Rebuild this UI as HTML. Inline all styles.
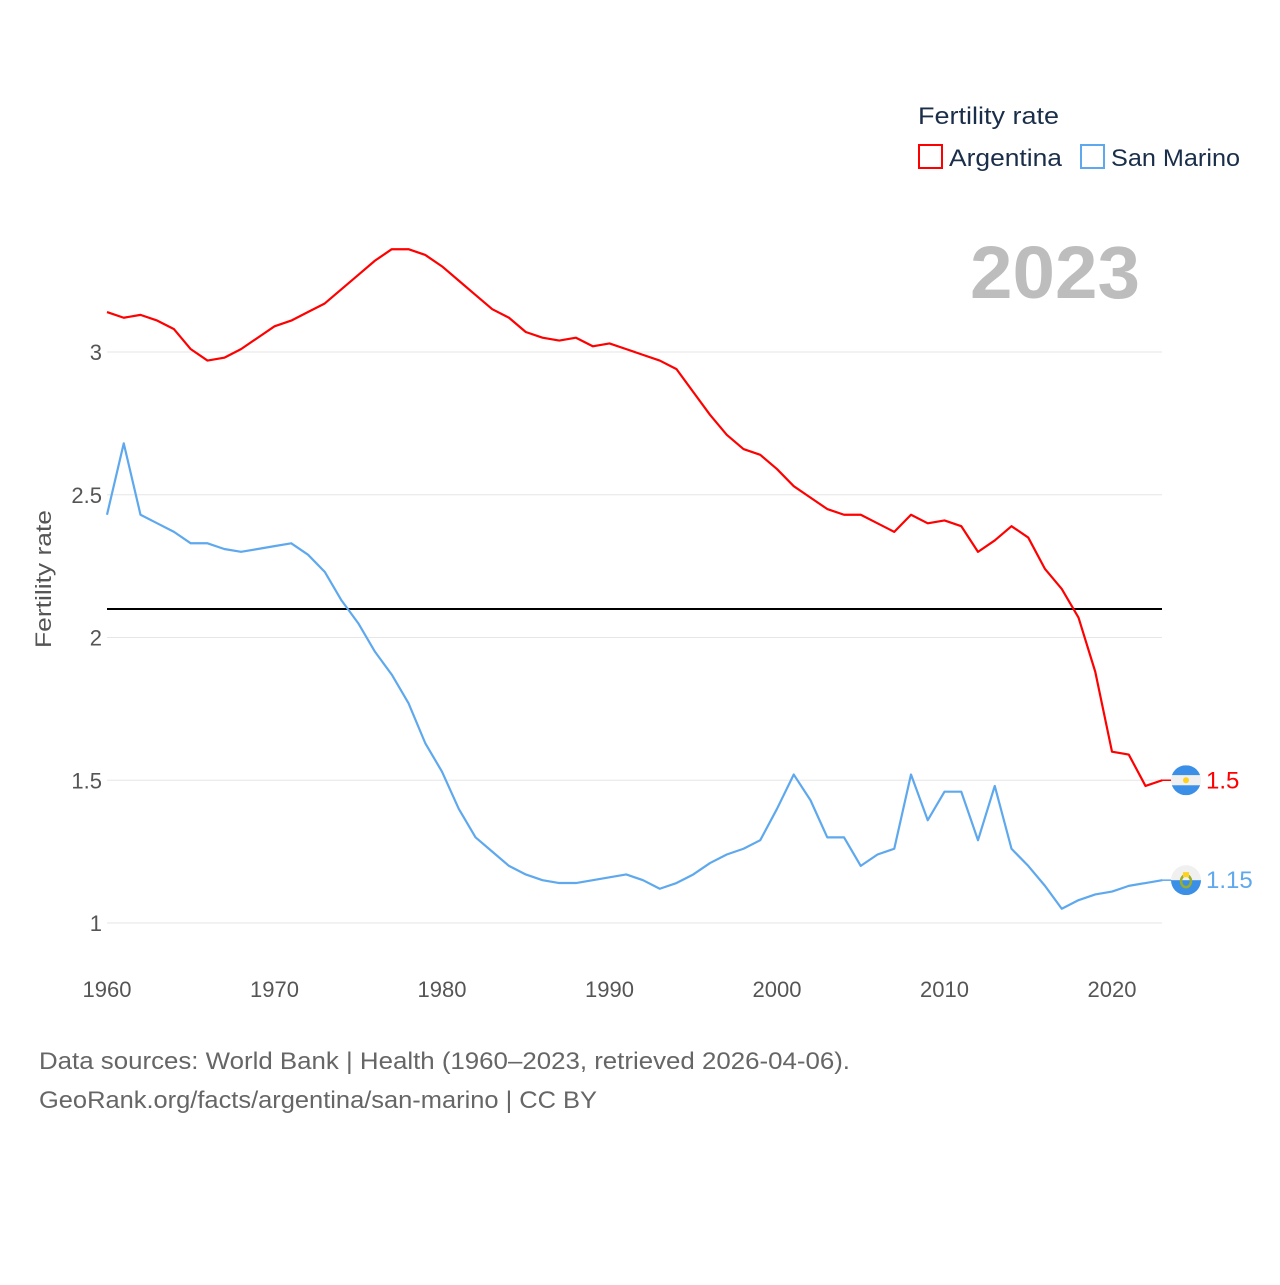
<!DOCTYPE html>
<html><head><meta charset="utf-8">
<style>
html,body{margin:0;padding:0;background:#fff;}
body{width:1280px;height:1280px;overflow:hidden;font-family:"Liberation Sans",sans-serif;}
</style></head>
<body>
<svg id="chart" width="1280" height="1280" xmlns="http://www.w3.org/2000/svg" font-family="Liberation Sans, sans-serif">
<g id="grid"></g>
<g id="yticks"></g>
<g id="xticks"></g>
<text transform="translate(51,579) rotate(-90)" text-anchor="middle" font-size="22" fill="#555" textLength="138" lengthAdjust="spacingAndGlyphs">Fertility rate</text>
<text x="970" y="298" font-size="74" font-weight="bold" fill="#bdbdbd" textLength="170" lengthAdjust="spacingAndGlyphs">2023</text>
<g>
<text x="918" y="124" font-size="24" fill="#1a2e4a" textLength="141" lengthAdjust="spacingAndGlyphs">Fertility rate</text>
<rect x="919" y="145" width="23" height="23" fill="none" stroke="#ff0000" stroke-width="2"/>
<text x="949" y="166" font-size="24" fill="#1a2e4a" textLength="113" lengthAdjust="spacingAndGlyphs">Argentina</text>
<rect x="1081" y="145" width="23" height="23" fill="none" stroke="#5ea8ee" stroke-width="2"/>
<text x="1111" y="166" font-size="24" fill="#1a2e4a" textLength="129" lengthAdjust="spacingAndGlyphs">San Marino</text>
</g>
<line id="refline" stroke="#000" stroke-width="2"/>
<g id="series"></g>
<g id="ends"></g>
<text x="39" y="1069" font-size="24" fill="#666" textLength="811" lengthAdjust="spacingAndGlyphs">Data sources: World Bank | Health (1960–2023, retrieved 2026-04-06).</text>
<text x="39" y="1108" font-size="24" fill="#666" textLength="558" lengthAdjust="spacingAndGlyphs">GeoRank.org/facts/argentina/san-marino | CC BY</text>
</svg>
<script>
const years = Array.from({length:64},(_,i)=>1960+i);
const argentina = [3.14,3.12,3.13,3.11,3.08,3.01,2.97,2.98,3.01,3.05,3.09,3.11,3.14,3.17,3.22,3.27,3.32,3.36,3.36,3.34,3.30,3.25,3.20,3.15,3.12,3.07,3.05,3.04,3.05,3.02,3.03,3.01,2.99,2.97,2.94,2.86,2.78,2.71,2.66,2.64,2.59,2.53,2.49,2.45,2.43,2.43,2.40,2.37,2.43,2.40,2.41,2.39,2.30,2.34,2.39,2.35,2.24,2.17,2.07,1.88,1.60,1.59,1.48,1.50];
const sanMarino = [2.43,2.68,2.43,2.40,2.37,2.33,2.33,2.31,2.30,2.31,2.32,2.33,2.29,2.23,2.13,2.05,1.95,1.87,1.77,1.63,1.53,1.40,1.30,1.25,1.20,1.17,1.15,1.14,1.14,1.15,1.16,1.17,1.15,1.12,1.14,1.17,1.21,1.24,1.26,1.29,1.40,1.52,1.43,1.30,1.30,1.20,1.24,1.26,1.52,1.36,1.46,1.46,1.29,1.48,1.26,1.20,1.13,1.05,1.08,1.10,1.11,1.13,1.14,1.15];
const yTicks = [1,1.5,2,2.5,3];
const xTicks = [1960,1970,1980,1990,2000,2010,2020];
const replacement = 2.1;
const NS="http://www.w3.org/2000/svg";
const x = v => 107 + (v-1960)*16.75;
const y = v => 923 - (v-1)*285.5;
function mk(tag,parent,attrs){const e=document.createElementNS(NS,tag);for(const k in attrs)e.setAttribute(k,attrs[k]);parent.appendChild(e);return e;}
const grid=document.getElementById('grid'), yt=document.getElementById('yticks'), xt=document.getElementById('xticks');
yTicks.forEach(t=>{
  const l=mk('line',grid,{x1:107,x2:1162,y1:y(t),y2:y(t),stroke:'#e6e6e6','stroke-width':1});
  
  
  const tx=mk('text',yt,{x:102,y:y(t)+8,'text-anchor':'end','font-size':22,fill:'#555'});
  tx.textContent=String(t);
  
  
});
xTicks.forEach(t=>{
  const tx=mk('text',xt,{x:x(t),y:997,'text-anchor':'middle','font-size':22,fill:'#555'});
  tx.textContent=String(t);
  
  
});
const rl=document.getElementById('refline');
rl.setAttribute('x1',107);rl.setAttribute('x2',1162);rl.setAttribute('y1',y(replacement));rl.setAttribute('y2',y(replacement));
const ser=document.getElementById('series');
[[argentina,'#ff0000','argentina-line'],[sanMarino,'#5ea8ee','san-marino-line']].forEach(([d,c,n])=>{
  const p=mk('polyline',ser,{points:d.map((v,i)=>x(years[i])+','+y(v)).join(' '),fill:'none',stroke:c,'stroke-width':2.2,'stroke-linejoin':'round'});
  
  
});
const ends=document.getElementById('ends');
function flag(cy,kind,val,col){
  const cx=1186;
  const g=mk('g',ends,{});
  
  
  mk('line',g,{x1:1162,x2:1172,y1:cy,y2:cy,stroke:col,'stroke-width':1.5});
  const cid='c'+kind;
  const cp=mk('clipPath',g,{id:cid}); mk('circle',cp,{cx:cx,cy:cy,r:15});
  const fg=mk('g',g,{'clip-path':'url(#'+cid+')'});
  if(kind==='argentina'){
    mk('rect',fg,{x:cx-15,y:cy-15,width:30,height:10,fill:'#3b8fe6'});
    mk('rect',fg,{x:cx-15,y:cy-5,width:30,height:10,fill:'#f0f0f0'});
    mk('rect',fg,{x:cx-15,y:cy+5,width:30,height:10,fill:'#3b8fe6'});
    mk('circle',fg,{cx:cx,cy:cy,r:3,fill:'#ffd21f'});
  } else {
    mk('rect',fg,{x:cx-15,y:cy-15,width:30,height:15,fill:'#f0f0f0'});
    mk('rect',fg,{x:cx-15,y:cy,width:30,height:15,fill:'#3b8fe6'});
    mk('ellipse',fg,{cx:cx,cy:cy+1,rx:5,ry:6,fill:'none',stroke:'#9aae2c','stroke-width':2.5});
    mk('rect',fg,{x:cx-3,y:cy-8,width:6,height:5,fill:'#ffd21f'});
  }
  const t=mk('text',ends,{x:1206,y:cy+8,'font-size':24,fill:col});
  t.textContent=val;
  
  
}
flag(y(argentina[argentina.length-1]),'argentina',String(argentina[argentina.length-1]),'#ff0000');
flag(y(sanMarino[sanMarino.length-1]),'san-marino',String(sanMarino[sanMarino.length-1]),'#5ea8ee');
</script>
</body></html>
